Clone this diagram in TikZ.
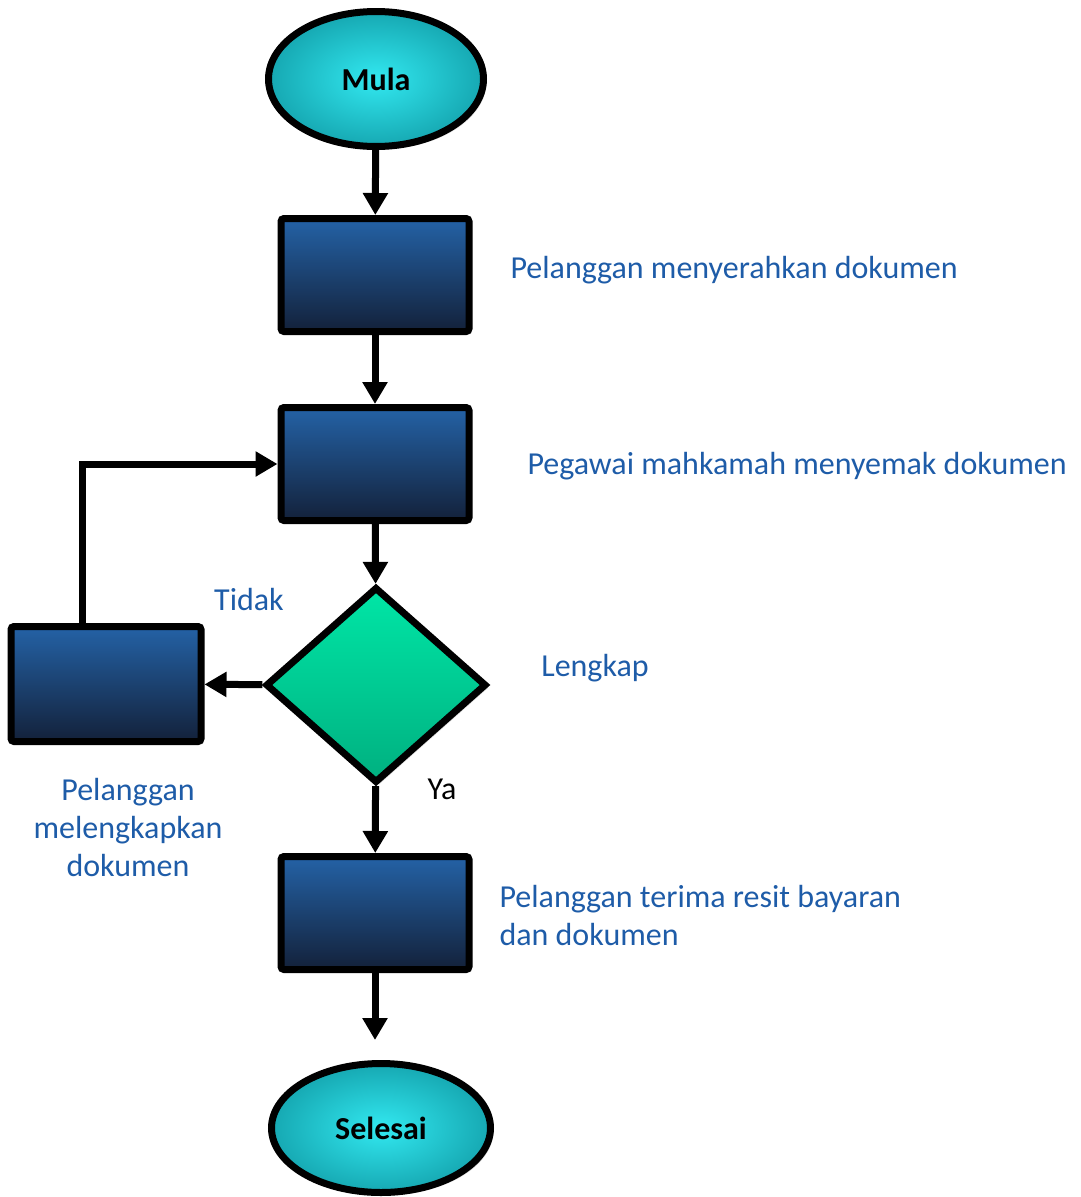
\documentclass[tikz,border=0pt]{standalone}
\usepackage{fontspec}
\setmainfont{Carlito}
\usepackage{tikz}
\usetikzlibrary{shapes.geometric, arrows.meta, shadows}

\definecolor{capblue}{RGB}{30,92,168}
\definecolor{ovalin}{RGB}{50,232,240}
\definecolor{ovalout}{RGB}{22,168,178}
\definecolor{boxtop}{RGB}{36,98,166}
\definecolor{boxmid}{RGB}{30,78,136}
\definecolor{boxbot}{RGB}{19,33,58}
\definecolor{diatop}{RGB}{0,230,166}
\definecolor{diabot}{RGB}{0,176,128}

\begin{document}
\begin{tikzpicture}[x=1pt, y=-1pt, line width=7pt,
                    >={Triangle[length=22pt, width=24pt]}]
    \tikzstyle{soft} = [drop shadow={opacity=0.25, shadow xshift=3pt, shadow yshift=-3pt}]
    \tikzstyle{terminal} = [ellipse, draw, soft, inner sep=0pt, minimum width=215pt,
                            minimum height=135pt, inner color=ovalin, outer color=ovalout,
                            font=\fontsize{32}{38}\selectfont\bfseries]
    \tikzstyle{process} = [rectangle, draw, soft, rounded corners=3pt, minimum width=188pt,
                           minimum height=113pt, top color=boxtop, middle color=boxmid,
                           bottom color=boxbot]
    \tikzstyle{decision} = [diamond, draw, soft, inner sep=0pt, minimum width=221pt,
                            minimum height=196pt, top color=diatop, bottom color=diabot]
    \tikzstyle{caption} = [text=capblue, inner sep=0pt, font=\fontsize{32}{38}\selectfont]

    \useasboundingbox (0,0) rectangle (1080,1197);

    % flow boxes
    \node [terminal] (mula) at (376,79) {Mula};
    \node [process] (serah) at (375,275) {};
    \node [process] (semak) at (375,464) {};
    \node [decision] (lengkap) at (376,685) {};
    \node [process, minimum width=190pt, minimum height=115pt] (lengkapkan) at (106,684) {};
    \node [process] (terima) at (375,913) {};
    \node [terminal, minimum width=219pt, minimum height=129pt] (selesai) at (381,1128) {Selesai};
    \coordinate (akhir) at (375,1040);

    % captions
    \node [caption, anchor=west] (serahtxt) at (507,270) {Pelanggan menyerahkan dokumen};
    \node [caption, anchor=west] (semaktxt) at (524,466) {Pegawai mahkamah menyemak dokumen};
    \node [caption] (tidak) at (249,599) {Tidak};
    \node [caption] (lengkaptxt) at (595,668) {Lengkap};
    \node [caption, text=black] (ya) at (442,789) {Ya};
    \node [caption, align=center] (lengkapkantxt) at (128,827) {Pelanggan\\melengkapkan\\dokumen};
    \node [caption, anchor=west, align=left] (terimatxt) at (496,915) {Pelanggan terima resit bayaran\\dan dokumen};

    % connectors
    \draw[->] (mula) -- (serah);
    \draw[->] (serah) -- (semak);
    \draw[->] (semak) -- (lengkap);
    \draw[->] (lengkap) -- (lengkapkan);
    \draw[->] ([xshift=-24pt]lengkapkan.north) |- (semak.west);
    \draw[->] (lengkap) -- (terima);
    \draw[->] (terima) -- (akhir);
\end{tikzpicture}
\end{document}
